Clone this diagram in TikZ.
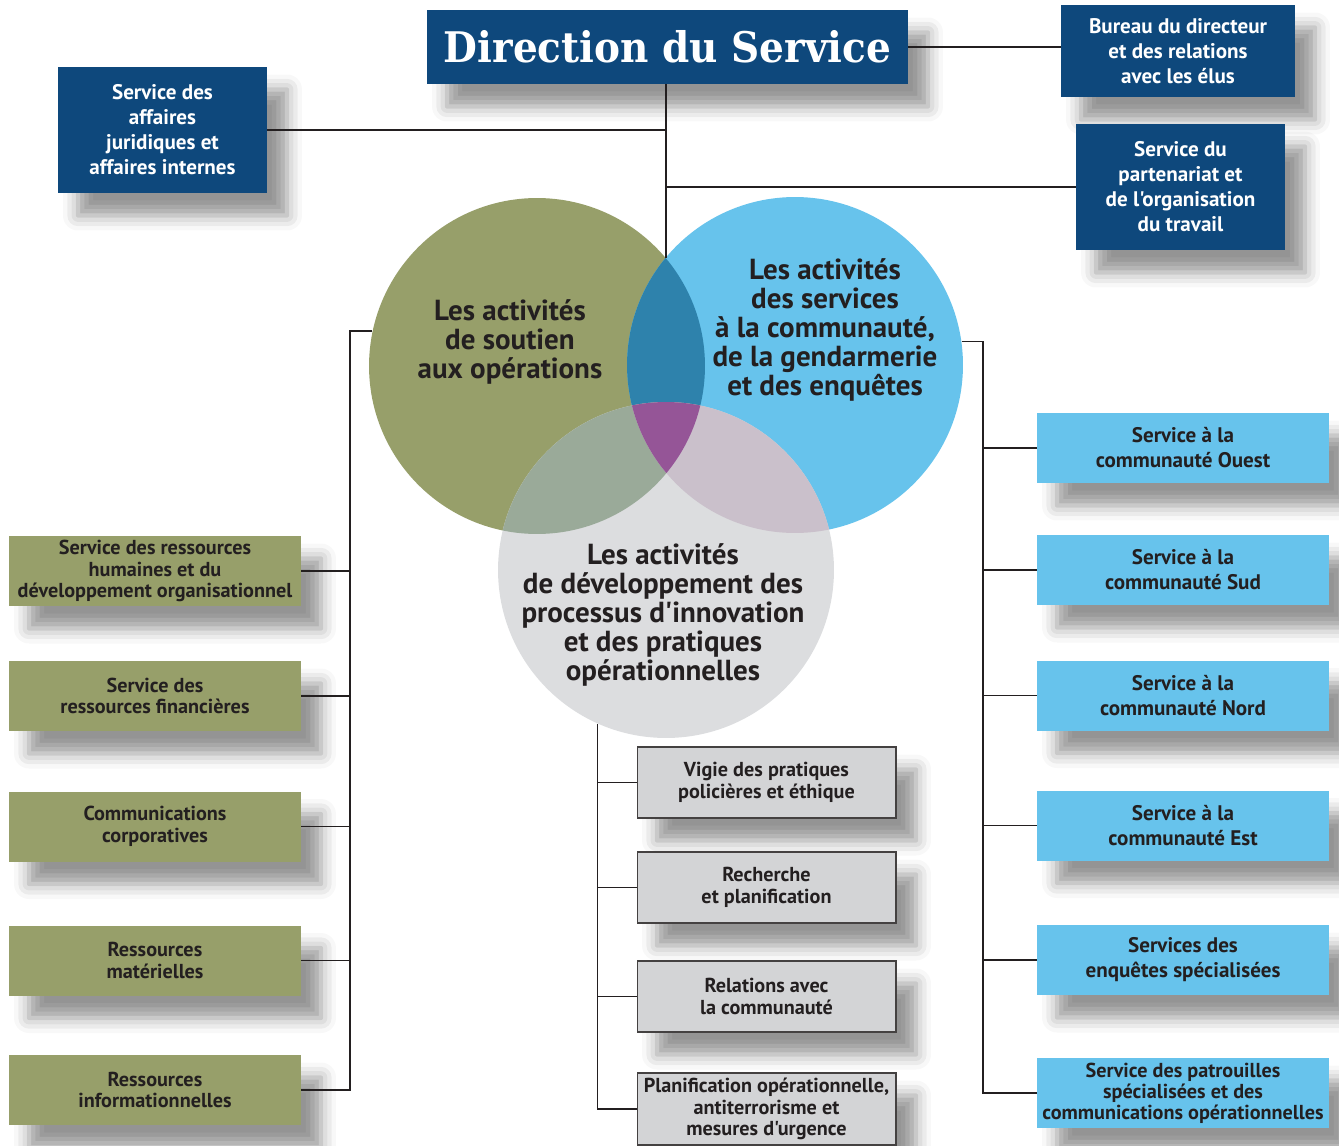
\documentclass[tikz,border=0pt]{standalone}
\usepackage{fontspec}
\setmainfont{PT Sans}
\newfontfamily\titlefont[FakeStretch=0.925]{DejaVu Serif}
\newfontfamily\boxfont{PT Sans}
\usepackage{xcolor}
\usetikzlibrary{positioning, calc, shadows.blur}
\definecolor{darkBlue}{HTML}{0E487C}
\definecolor{oliveGreen}{HTML}{979F6A}
\definecolor{skyBlue}{HTML}{67C3EC}
\definecolor{paleGrey}{HTML}{DCDDDF}
\definecolor{boxGrey}{HTML}{D3D4D6}
\definecolor{inkColor}{HTML}{231F20}
\definecolor{mixGB}{HTML}{2E82AC}
\definecolor{mixGG}{HTML}{9AAA99}
\definecolor{mixBG}{HTML}{CAC0CB}
\definecolor{mixAll}{HTML}{955597}
\tikzset{
    boxshadow/.style={
        blur shadow={shadow xshift=0.4cm, shadow yshift=-0.45cm,
            shadow blur radius=0.3cm, shadow opacity=42}
    },
    dirbox/.style={
        rectangle,
        fill=darkBlue,
        text=white,
        inner sep=0pt,
        align=center,
        boxshadow,
        font=\boxfont\bfseries\fontsize{12}{14.2}\selectfont
    },
    soutienbox/.style={
        rectangle,
        fill=oliveGreen,
        text=inkColor,
        inner sep=0pt,
        align=center,
        minimum width=5.84cm,
        minimum height=1.4cm,
        boxshadow,
        font=\boxfont\bfseries\fontsize{11.5}{12.2}\selectfont
    },
    servicebox/.style={
        soutienbox,
        fill=skyBlue,
        font=\boxfont\bfseries\fontsize{12}{14.2}\selectfont
    },
    innobox/.style={
        soutienbox,
        fill=boxGrey,
        draw=inkColor!85,
        line width=0.6pt,
        minimum width=5.18cm,
        minimum height=1.42cm
    },
    venn/.style={
        circle,
        inner sep=0pt,
        minimum size=6.72cm
    },
    venntext/.style={
        align=center,
        text=inkColor,
        font=\boxfont\bfseries\fontsize{16.5}{16.5}\selectfont
    },
    link/.style={
        draw=inkColor,
        line width=0.9pt
    }
}

\begin{document}
\begin{tikzpicture}[x=0.02cm, y=-0.02cm]
    \useasboundingbox (0,0) rectangle (1339,1146);

    % Direction
    \node[dirbox, minimum width=9.62cm, minimum height=1.48cm,
        font=\titlefont\bfseries\fontsize{24}{26}\selectfont] (Direction) at (667.5,47) {Direction du Service};
    \node[dirbox, minimum width=4.68cm, minimum height=1.84cm] (Bureau) at (1178,51) {Bureau du directeur\\et des relations\\avec les élus};
    \node[dirbox, minimum width=4.18cm, minimum height=2.52cm] (Juridique) at (162.5,130) {Service des\\affaires\\juridiques et\\affaires internes};
    \node[dirbox, minimum width=4.18cm, minimum height=2.52cm] (Partenariat) at (1180.5,187) {Service du\\partenariat et\\de l'organisation\\du travail};

    % cercles
    \node[venn, fill=oliveGreen] (Soutien) at (537,366) {};
    \node[venn, fill=skyBlue] (Services) at (795,365) {};
    \node[venn, fill=paleGrey] (Innovation) at (666,570) {};
    \begin{scope}
        \clip (Soutien.center) circle (3.36cm);
        \fill[mixGB] (Services.center) circle (3.36cm);
        \fill[mixGG] (Innovation.center) circle (3.36cm);
    \end{scope}
    \begin{scope}
        \clip (Services.center) circle (3.36cm);
        \fill[mixBG] (Innovation.center) circle (3.36cm);
        \clip (Soutien.center) circle (3.36cm);
        \fill[mixAll] (Innovation.center) circle (3.36cm);
    \end{scope}
    \coordinate (TopMeet) at (666,258);
    \node[venntext] (SoutienText) at (510,342) {Les activités\\de soutien\\aux opérations};
    \node[venntext] (ServicesText) at (825,330) {Les activités\\des services\\à la communauté,\\de la gendarmerie\\et des enquêtes};
    \node[venntext] (InnovationText) at (663,615) {Les activités\\de développement des\\processus d'innovation\\et des pratiques\\opérationnelles};

    % soutien aux opérations
    \node[soutienbox] (RH) at (155,571) {Service des ressources\\humaines et du\\développement organisationnel};
    \node[soutienbox] (Finance) at (155,696) {Service des\\ressources financières};
    \node[soutienbox] (Comm) at (155,826.5) {Communications\\corporatives};
    \node[soutienbox] (Materiel) at (155,960.5) {Ressources\\matérielles};
    \node[soutienbox] (Info) at (155,1090) {Ressources\\informationnelles};

    % services à la communauté
    \node[servicebox] (Ouest) at (1183,448) {Service à la\\communauté Ouest};
    \node[servicebox] (Sud) at (1183,570) {Service à la\\communauté Sud};
    \node[servicebox] (Nord) at (1183,695.5) {Service à la\\communauté Nord};
    \node[servicebox] (Est) at (1183,825.5) {Service à la\\communauté Est};
    \node[servicebox] (Enquetes) at (1183,960) {Services des\\enquêtes spécialisées};
    \node[servicebox, font=\boxfont\bfseries\fontsize{11.5}{12}\selectfont] (Patrouilles) at (1183,1093) {Service des patrouilles\\spécialisées et des\\communications opérationnelles};

    % innovation
    \node[innobox] (Vigie) at (766.5,782.5) {Vigie des pratiques\\policières et éthique};
    \node[innobox] (Recherche) at (766.5,887.5) {Recherche\\et planification};
    \node[innobox] (Relations) at (766.5,996.5) {Relations avec\\la communauté};
    \node[innobox, minimum height=1.44cm] (Urgence) at (766.5,1109) {Planification opérationnelle,\\antiterrorisme et\\mesures d'urgence};

    % liens
    \coordinate (LeftBus) at (350,331);
    \coordinate (RightBus) at (983,340);
    \draw[link] (Direction.east) -- (Direction.east -| Bureau.west);
    \draw[link] (Direction.south -| TopMeet) -- (TopMeet);
    \draw[link] (Juridique.east) -- (Juridique.east -| TopMeet);
    \draw[link] (Partenariat.west) -- (Partenariat.west -| TopMeet);

    \draw[link] (Soutien.168) -| (LeftBus |- Info.east) -- (Info.east);
    \foreach \n in {RH, Finance, Comm, Materiel}
        \draw[link] (\n.east) -- (\n.east -| LeftBus);

    \draw[link] (Services.8.6) -| (RightBus |- Patrouilles.west) -- (Patrouilles.west);
    \foreach \n in {Ouest, Sud, Nord, Est, Enquetes}
        \draw[link] (\n.west) -- (\n.west -| RightBus);

    \draw[link] (Innovation.246) |- (Urgence.west);
    \foreach \n in {Vigie, Recherche, Relations}
        \draw[link] (\n.west) -- (\n.west -| Innovation.246);
\end{tikzpicture}
\end{document}
